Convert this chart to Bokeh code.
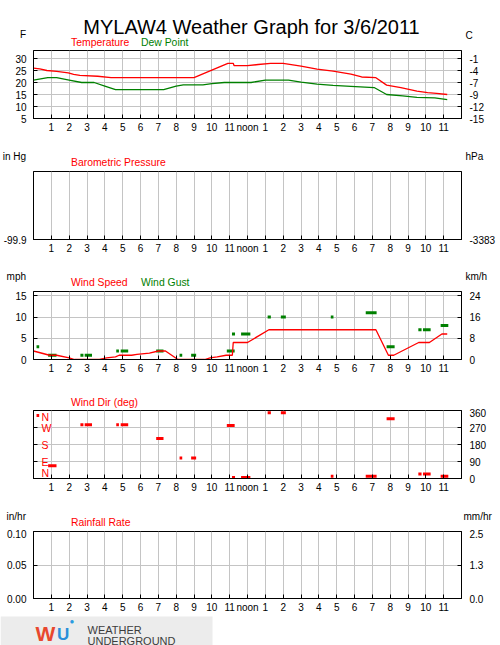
from bokeh.plotting import figure
from bokeh.models import Range1d, LinearAxis, FixedTicker, Label, BoxAnnotation
from bokeh.layouts import column
from bokeh.embed import file_html
from bokeh.resources import INLINE

# ---------------- data ----------------
title_text = "MYLAW4 Weather Graph for 3/6/2011"

hour_ticks = list(range(1, 24))
hour_labels = ["1", "2", "3", "4", "5", "6", "7", "8", "9", "10", "11", "noon",
               "1", "2", "3", "4", "5", "6", "7", "8", "9", "10", "11"]

temp_hours = [0.0, 0.35, 0.75, 1.3, 1.95, 2.25, 2.6, 3.6, 4.35, 9.0, 10.9, 11.2, 11.25, 12.0,
              12.6, 13.3, 14.0, 15.0, 15.9, 16.8, 17.8, 18.4, 19.2, 19.8, 20.6, 21.5, 22.1, 22.6, 23.2]
temp_f = [26.0, 25.7, 25.0, 24.6, 24.0, 23.4, 23.0, 22.6, 22.0, 22.0, 28.0, 28.0, 27.0, 27.0,
          27.5, 28.0, 28.0, 26.8, 25.6, 24.7, 23.5, 22.3, 22.0, 18.9, 17.9, 16.4, 15.8, 15.5, 15.0]

dew_hours = [0.0, 0.8, 1.3, 2.0, 2.7, 3.4, 4.0, 4.6, 7.3, 8.0, 8.4, 9.5, 10.0, 10.7, 12.2, 13.0,
             14.3, 15.0, 15.9, 16.8, 17.8, 19.1, 19.8, 20.7, 21.5, 22.5, 23.2]
dew_f = [21.0, 22.0, 22.0, 21.0, 20.0, 20.0, 18.5, 17.0, 17.0, 18.5, 19.0, 19.0, 19.5, 20.0, 20.0, 21.0,
         21.0, 20.2, 19.3, 18.8, 18.4, 17.9, 15.0, 14.4, 13.8, 13.6, 12.9]

temp_ticks = [5, 10, 15, 20, 25, 30]
temp_c_labels = ["-15", "-12", "-9", "-7", "-4", "-1"]

pressure_ticks = [0]
pressure_in_labels = ["-99.9"]
pressure_hpa_labels = ["-3383"]

wind_hours = [0.0, 0.9, 1.3, 2.0, 2.3, 3.7, 4.1, 4.6, 4.8, 5.5, 5.8, 6.5, 7.0, 7.4, 8.1, 9.6, 9.9,
              10.3, 10.8, 11.15, 11.2, 12.0, 13.2, 19.2, 19.9, 20.2, 21.6, 22.2, 22.9, 23.2]
wind_mph = [2.0, 1.0, 1.0, 0.4, 0.0, 0.0, 0.4, 0.6, 1.0, 1.0, 1.2, 1.5, 2.0, 2.0, 0.0, 0.0, 0.4,
            0.6, 1.0, 1.0, 4.0, 4.0, 7.0, 7.0, 1.0, 1.0, 4.0, 4.0, 6.0, 6.0]

gust_start = [0.17, 0.82, 2.63, 2.87, 4.64, 4.89, 6.88, 8.19, 8.84, 10.84, 11.13, 11.64,
              13.13, 13.87, 16.67, 18.63, 19.80, 21.58, 21.84, 22.83]
gust_end = [0.32, 1.29, 2.80, 3.28, 4.79, 5.31, 7.29, 8.34, 9.12, 11.28, 11.30, 12.16,
            13.31, 14.15, 16.82, 19.24, 20.25, 21.76, 22.27, 23.26]
gust_mph = [3, 1, 1, 1, 2, 2, 2, 1, 1, 2, 6, 6,
            10, 10, 10, 11, 3, 7, 7, 8]

wind_ticks = [0, 5, 10, 15]
wind_kmh_labels = ["0", "8", "16", "24"]

dir_start = [0.17, 0.82, 2.63, 2.87, 4.64, 4.89, 6.88, 8.19, 8.84, 10.84, 11.13, 11.64,
             13.13, 13.87, 16.67, 18.63, 19.80, 21.58, 21.84, 22.83]
dir_end = [0.32, 1.29, 2.80, 3.28, 4.79, 5.31, 7.29, 8.34, 9.12, 11.28, 11.30, 12.16,
           13.31, 14.15, 16.82, 19.24, 20.25, 21.76, 22.27, 23.26]
dir_deg = [334, 68, 285, 285, 285, 285, 212, 108, 108, 280, 5, 5,
           348, 348, 12, 12, 316, 24, 24, 12]

dir_ticks = [0, 90, 180, 270, 360]
compass_labels = ["N", "E", "S", "W", "N"]

rain_ticks = [0.0, 0.05, 0.10]
rain_in_labels = ["0.00", "0.05", "0.10"]
rain_mm_labels = ["0.0", "1.3", "2.5"]

# ---------------- style ----------------
SANS = "Liberation Sans"
RED = "#ff0000"
GREEN = "#008000"
GRID = "#c4c4c4"
FRAME_H = 68
FRAME_L = 32
FRAME_W = 429
W = 500


def make_panel(height, y0, y1, ticks, left_labels, right_labels, hgrid=True):
    p = figure(width=W, height=height, x_range=Range1d(0, 24), y_range=Range1d(y0, y1),
               output_backend="svg", toolbar_location=None,
               min_border_left=FRAME_L, min_border_right=W - FRAME_L - FRAME_W,
               min_border_top=2, min_border_bottom=height - 2 - FRAME_H,
               outline_line_color="black", outline_line_width=1,
               background_fill_color="white", border_fill_color="white")
    p.xaxis.ticker = FixedTicker(ticks=hour_ticks)
    p.xaxis.major_label_overrides = dict(zip(hour_ticks, hour_labels))
    p.yaxis.ticker = FixedTicker(ticks=ticks)
    if left_labels is not None:
        p.yaxis.major_label_overrides = dict(zip(ticks, left_labels))
    else:
        p.yaxis.major_label_text_alpha = 0
    r = LinearAxis(ticker=FixedTicker(ticks=ticks),
                   major_label_overrides=dict(zip(ticks, right_labels)))
    p.add_layout(r, "right")
    for ax in p.xaxis + p.yaxis + [r]:
        ax.minor_tick_line_color = None
        ax.major_tick_in = 4
        ax.major_tick_out = 0
        ax.axis_line_color = "black"
        ax.major_tick_line_color = "black"
        ax.major_label_text_font = SANS
        ax.major_label_text_font_size = "10px"
        ax.major_label_text_color = "black"
    p.xaxis.major_label_standoff = 3
    p.yaxis.major_label_standoff = 7
    r.major_label_standoff = 8
    p.xgrid.ticker = FixedTicker(ticks=hour_ticks)
    p.xgrid.grid_line_color = GRID
    if hgrid:
        p.ygrid.ticker = FixedTicker(ticks=ticks)
        p.ygrid.grid_line_color = GRID
    else:
        p.ygrid.grid_line_color = None
    return p


def make_strip(height):
    s = figure(width=W, height=height, x_range=Range1d(0, W), y_range=Range1d(height, 0),
               x_axis_type=None, y_axis_type=None, output_backend="svg", toolbar_location=None,
               min_border=0, outline_line_color=None, frame_align=False,
               background_fill_color="white", border_fill_color="white")
    return s


def put(s, top, X, Y, text, color="black", size="10.4px", align="left", baseline="middle",
        style="normal"):
    s.add_layout(Label(x=X, y=Y - top, text=text, text_color=color, text_font=SANS,
                       text_font_size=size, text_align=align, text_baseline=baseline,
                       text_font_style=style))


# ---- temperature ----
s1 = make_strip(48)
put(s1, 0, 251, 26.7, title_text, size="20px", align="center", baseline="alphabetic")
put(s1, 0, 70.5, 41.5, "Temperature", color=RED)
put(s1, 0, 140.5, 41.5, "Dew Point", color=GREEN)
put(s1, 0, 25.5, 34, "F", size="10px", align="right")
put(s1, 0, 465, 34.5, "C", size="10px")
p1 = make_panel(92, 5, 5 + FRAME_H / 2.4, temp_ticks, [str(t) for t in temp_ticks], temp_c_labels)
p1.line(temp_hours, temp_f, line_color=RED, line_width=1.3)
p1.line(dew_hours, dew_f, line_color=GREEN, line_width=1.3)

# ---- pressure ----
s2 = make_strip(29)
put(s2, 140, 70.5, 161.7, "Barometric Pressure", color=RED)
put(s2, 140, 25.5, 156, "in Hg", size="10px", align="right")
put(s2, 140, 465, 155.5, "hPa", size="10px")
p2 = make_panel(91, 0, 1, pressure_ticks, pressure_in_labels, pressure_hpa_labels, hgrid=False)

# ---- wind speed ----
s3 = make_strip(29)
put(s3, 260, 70.5, 281.7, "Wind Speed", color=RED)
put(s3, 260, 140.5, 281.7, "Wind Gust", color=GREEN)
put(s3, 260, 25.5, 276, "mph", size="10px", align="right")
put(s3, 260, 465, 275.5, "km/h", size="10px")
p3 = make_panel(91, 0, 16, wind_ticks, [str(t) for t in wind_ticks], wind_kmh_labels)
p3.hbar(y=gust_mph, left=gust_start, right=gust_end, height=0.75, fill_color=GREEN, line_color=None)
p3.line(wind_hours, wind_mph, line_color=RED, line_width=1.3)

# ---- wind direction ----
s4 = make_strip(28)
put(s4, 380, 70.5, 402, "Wind Dir (deg)", color=RED)
p4 = make_panel(92, 0, 360, dir_ticks, None, [str(t) for t in dir_ticks])
p4.hbar(y=dir_deg, left=dir_start, right=dir_end, height=16, fill_color=RED, line_color=None)
for d, lab in zip(dir_ticks, compass_labels):
    base = "top" if d == max(dir_ticks) else ("bottom" if d == min(dir_ticks) else "middle")
    p4.add_layout(Label(x=0.45, y=d, text=lab, text_color=RED, text_font=SANS,
                        text_font_size="10.5px", text_baseline=base, text_align="left"))

# ---- rainfall ----
s5 = make_strip(29)
put(s5, 500, 70.5, 521.7, "Rainfall Rate", color=RED)
put(s5, 500, 25.5, 515.5, "in/hr", size="10px", align="right")
put(s5, 500, 463, 516, "mm/hr", size="10px")
p5 = make_panel(86, 0, 0.10, rain_ticks, rain_in_labels, rain_mm_labels)

# ---- logo strip ----
s6 = make_strip(30)
s6.add_layout(BoxAnnotation(left=0, right=212, bottom=30, top=1, fill_color="#ececec",
                            fill_alpha=1, line_color=None))
put(s6, 615, 35, 632.5, "W", color="#e8472e", size="21px", style="bold")
put(s6, 615, 56.5, 633.5, "U", color="#2a8fd9", size="17px", style="bold")
put(s6, 615, 69, 621, "\u25cf", color="#2a9be0", size="8px")
put(s6, 615, 87, 629.5, "WEATHER", color="#3c3c3c", size="11px")
put(s6, 615, 87, 640, "UNDERGROUND", color="#3c3c3c", size="11px")

layout = column(s1, p1, s2, p2, s3, p3, s4, p4, s5, p5, s6, spacing=0)

open("out.html", "w").write(file_html(layout, INLINE))
